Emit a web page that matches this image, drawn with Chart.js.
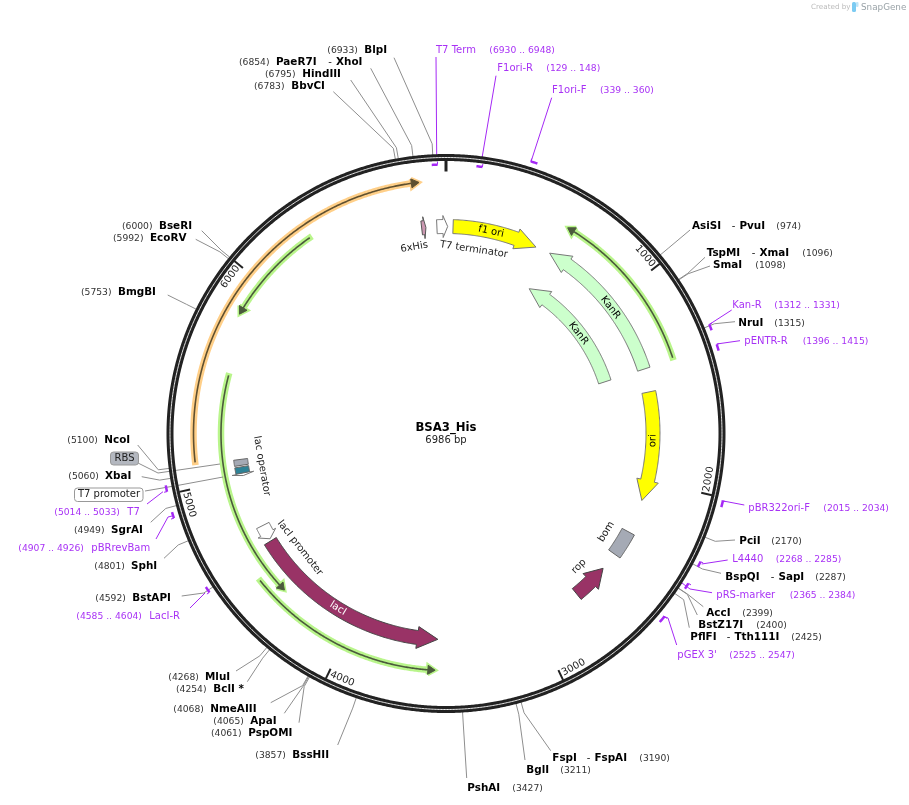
<!DOCTYPE html>
<html><head><meta charset="utf-8">
<style>html,body{margin:0;padding:0;background:#fff}canvas{display:block}</style>
<script src="https://cdn.jsdelivr.net/npm/chart.js@4"></script>
</head><body><canvas id="c" width="909" height="805"></canvas>
<script>
// ---------- values ----------
const plasmidName = "BSA3_His";
const plasmidLength = 6986;
const tickPositions = [1000, 2000, 3000, 4000, 5000, 6000];

const siteNames = ["BlpI","PaeR7I","HindIII","BbvCI","AsiSI","TspMI","SmaI","NruI","PciI","BspQI","AccI","BstZ17I","PflFI","FspI","BglI","PshAI","BssHII","PspOMI","ApaI","NmeAIII","BclI *","MluI","BstAPI","SphI","SgrAI","XbaI","NcoI","BseRI","EcoRV","BmgBI"];
const siteAlts = ["","XhoI","","","PvuI","XmaI","","","","SapI","","","Tth111I","FspAI","","","","","","","","","","","","","","","",""];
const sitePositions = [6933,6854,6795,6783,974,1096,1098,1315,2170,2287,2399,2400,2425,3190,3211,3427,3857,4061,4065,4068,4254,4268,4592,4801,4949,5060,5100,6000,5992,5753];

const primerNames = ["T7 Term","F1ori-R","F1ori-F","Kan-R","pENTR-R","pBR322ori-F","L4440","pRS-marker","pGEX 3'","T7","pBRrevBam","LacI-R"];
const primerStarts = [6930,129,339,1312,1396,2015,2268,2365,2525,5014,4907,4585];
const primerEnds = [6948,148,360,1331,1415,2034,2285,2384,2547,5033,4926,4604];

const blockNames = ["f1 ori","KanR","KanR","ori","rop","lacI"];
const blockTails = [38,1397,1397,1522,2733,4628];
const blockHeads = [386,691,712,2002,2632,3648];
const blockTips = [500,580,580,2113,2535,3537];

const arcStarts = [1388,5112,6310,5530,4496];
const arcEnds = [594,6867,5822,4384,3544];

// ---------- layout and style ----------
const CX = 446, CY = 433.5, RING = 276;
const sitePlace = [[364.3,50.5,0,327.3,394,57.7],[276,62.5,328.3,239,370.7,68.3],[302.3,74.5,0,265,350.7,80],[291.3,86.5,0,254,333.3,91.7],
[692,226.5,731.7,776.3,690,230],[706.7,253.5,751.7,802.3,705,257.3],[713,265.5,0,755.3,710,266],[738.3,323.5,0,774.3,735,321.7],
[739.3,541.5,0,771.3,735,540],[725.3,577.5,770.7,815.3,721,573.3],[706.3,613.5,0,742.3,703.3,606.7],[698.3,625.5,0,756.3,697.3,615],
[690.3,637.5,726.7,791.3,689.3,627.7],[552.3,758.5,586.7,639.3,550.7,750.7],[526.3,770.5,0,560.3,525,760],[467.3,788.5,0,512.3,466.7,778],
[292.3,755.5,0,255.3,337.7,745],[248.3,733.5,0,211,299,722.7],[250.3,721.5,0,213.3,284.3,713.3],[210.3,709.5,0,173.3,270.7,702.7],
[213.3,689.5,0,176,247.3,681.7],[205,677.5,0,168.3,236,671],[132.3,598.5,0,95.3,181.7,596],[131,566.5,0,94.3,164,558.3],
[111,530.5,0,74,150.7,522.3],[105,476.5,0,68.3,141.7,476.7],[104.3,440.5,0,67.3,137.7,445],[159,226.5,0,122,201.7,230.7],[150,238.5,0,113,195.7,239.3],[118,292.5,0,81,167.7,295]];
// label x, y, range x, glyph radius, leader points
const primerPlace = [
[436,50.5,489.3,269,[[436,57],[436.7,155],[437,160]]],
[497.3,68.5,546.3,269,[[496,75.7],[482,158]]],
[552,90.5,600,285,[[551.7,97.7],[531,161.7]]],
[732.3,305.5,774.3,285,[[731.7,310],[710,324]]],
[744.3,341.5,802.7,285,[[740,340.7],[716.7,344]]],
[748.3,508.5,823.3,285,[[744.3,505],[721.7,500.7]]],
[732.3,559.5,775.7,285,[[727.7,560],[701.7,564]]],
[716.3,595.5,789.7,285,[[712,592.7],[690,589],[678,580]]],
[677.3,655.7,729.3,285,[[676.7,645],[668,618],[663,616]]],
[127.3,512.5,54.3,285,[[147,504],[163,491.7]]],
[91.3,548.7,18.3,285,[[156,539],[168,517],[172,516]]],
[149.3,616.5,76.3,285,[[190,608],[205,593]]]];
const blockStyle = [[207,7,10.5,"#FFFF00","#777"],[208,6.5,10,"#CCFFCC","#777"],[167,6.5,10,"#CCFFCC","#777"],[207,7,11,"#FFFF00","#777"],[207,7,11,"#993366","#444"],[206,7,11,"#993366","#444"]];
const arcStyle = [[239,"#B9F58B","#4B5A3C"],[252.5,"#FFCF88","#5F5030"],[238.5,"#B9F58B","#4B5A3C"],[225,"#B9F58B","#4B5A3C"],[237,"#B9F58B","#4B5A3C"]];
const PURPLE = "#A428F5", GREY = "#8E8E8E";

function polar(bp, r){ const t = bp/plasmidLength*2*Math.PI; return {x: CX + r*Math.sin(t), y: CY - r*Math.cos(t)}; }
function arc(a, b, r){ const n = Math.max(2, Math.ceil(Math.abs(b-a)/6)), out = []; for(let i=0;i<=n;i++) out.push(polar(a+(b-a)*i/n, r)); return out; }
function arrow(tail, head, tip, r, bw, hw){ return [...arc(tail,head,r+bw), polar(head,r+hw), polar(tip,r), polar(head,r-hw), ...arc(head,tail,r-bw), polar(tail,r+bw)]; }
function xy(p){ return {x:p[0], y:p[1]}; }

const layers = [];
// a dash longer than any path keeps every vertex (no x-pixel merging) while the stroke stays solid
const SOLID = [100000];
const line = (data,color,width)=>layers.push({data,borderColor:color,borderWidth:width,borderDash:SOLID,fill:false,showLine:true,pointRadius:0,tension:0,clip:false,borderJoinStyle:'round',borderCapStyle:'butt'});
const shape = (data,fillc,stroke,width)=>layers.push({data,borderColor:stroke,backgroundColor:fillc,borderWidth:width,borderDash:SOLID,fill:'shape',showLine:true,pointRadius:0,tension:0,clip:false,borderJoinStyle:'miter'});

// thin arcs with halo
arcStarts.forEach((s,i)=>{
  const e = arcEnds[i], [r,halo,dark] = arcStyle[i], dir = e>s?1:-1, hb = e-dir*34;
  const head = [polar(hb,r+4.5),polar(e,r),polar(hb,r-4.5),polar(hb,r+4.5)];
  line(arc(s-dir*12,hb,r),halo,6.5); shape(head,halo,halo,4);
  line(arc(s,hb,r),dark,1.6); shape(head,dark,dark,1);
});
// blocks
blockNames.forEach((n,i)=>{ const [r,bw,hw,f,st] = blockStyle[i];
  if(i===5) shape(arrow(4722,4675,4640,205,7,10),"#fff","#777",1);
  shape(arrow(blockTails[i],blockHeads[i],blockTips[i],r,bw,hw),f,st,1); });
// small features
shape(arc(2296,2437,214).concat(arc(2437,2296,200)).concat([polar(2296,214)]),"#A5AAB5","#666",1); // bom
shape(arrow(6855,6867,6878,207,7,11),"#CC99B2","#555",1); // 6xHis
shape(arrow(6937,6970,6995,207,7,11),"#fff","#777",1); // T7 terminator
shape(arrow(5028,5024,5012,207,7,11),"#fff","#777",1); // T7 promoter
shape(arc(5068,5100,214).concat(arc(5100,5068,200)).concat([polar(5068,214)]),"#A5AAB5","#666",1); // RBS
shape(arc(5026,5060,214).concat(arc(5060,5026,200)).concat([polar(5026,214)]),"#2E8296","#666",1); // lac operator

// site leaders
sitePositions.forEach((bp,i)=>{ const a = sitePlace[i]; line([polar(bp,279),polar(bp,290),{x:a[4],y:a[5]}],GREY,1); });
line([[138,463],[158,473],[220,464]].map(xy),GREY,1);
line([[145,491],[180,485],[223,477]].map(xy),GREY,1);
// primers
primerNames.forEach((n,i)=>{ const p = primerPlace[i], s = primerStarts[i], e = primerEnds[i], r = p[3];
  line(p[4].map(xy),PURPLE,1);
  line(arc(s-3,e+3,r),PURPLE,2.5);
  const last = p[4][p[4].length-1], a = polar(s,r), b = polar(e,r);
  const near = Math.hypot(a.x-last[0],a.y-last[1]) < Math.hypot(b.x-last[0],b.y-last[1]) ? s-3 : e+3;
  line([polar(near,r),polar(near,r+3)],PURPLE,1);
});
// ring and ticks
line(arc(0,plasmidLength,RING),"#222",7);
line(arc(0,plasmidLength,RING),"#E8E8E8",1);
tickPositions.forEach(b=>line([polar(b,262),polar(b,273)],"#222",2));
line([polar(0,262),polar(0,273)],"#222",3);

// ---------- text ----------
const FONT = '"DejaVu Sans"';
function text(ctx,x,y,s,font,color,align,rot){ ctx.save(); ctx.translate(x,y); if(rot) ctx.rotate(rot*Math.PI/180); ctx.font=font; ctx.fillStyle=color; ctx.textAlign=align||'left'; ctx.textBaseline='middle'; ctx.fillText(s,0,0); ctx.restore(); }
const textPlugin = { id:'mapText', afterDraw(chart){
  const ctx = chart.ctx, X = v=>chart.scales.x.getPixelForValue(v), Y = v=>chart.scales.y.getPixelForValue(v);
  const bold = `bold 10.4px ${FONT}`, num = `9.2px ${FONT}`, reg = `10px ${FONT}`;
  siteNames.forEach((n,i)=>{ const a = sitePlace[i];
    text(ctx,X(a[0]),Y(a[1]),n,bold,"#000");
    if(siteAlts[i]){ text(ctx,X(a[2]),Y(a[1]),"-",reg,"#222"); text(ctx,X(a[2]+7.7),Y(a[1]),siteAlts[i],bold,"#000"); }
    text(ctx,X(a[3]),Y(a[1]),"("+sitePositions[i]+")",num,"#333");
  });
  primerNames.forEach((n,i)=>{ const p = primerPlace[i];
    text(ctx,X(p[0]),Y(p[1]),n,reg,"#A832F5");
    text(ctx,X(p[2]),Y(p[1]),"("+primerStarts[i]+" .. "+primerEnds[i]+")",`9.2px ${FONT}`,"#A832F5");
  });
  text(ctx,X(CX),Y(428),plasmidName,`bold 11.7px ${FONT}`,"#000","center");
  text(ctx,X(CX),Y(440),plasmidLength+" bp",reg,"#222","center");
  // tick labels
  tickPositions.forEach(b=>{ const deg = b/plasmidLength*360-3.2, c = polar(b-3.2/360*plasmidLength,266.5), rot = (deg>90&&deg<270)?deg-180:deg;
    text(ctx,X(c.x),Y(c.y),String(b),reg,"#222","center",rot); });
  // feature labels
  const fl = [["f1 ori",12.6,207,"#000"],["KanR",52.6,207,"#000"],["KanR",52.9,166,"#000"],["ori",92,207,"#000"],["lacI",211.7,205.6,"#fff"],
    ["bom",121.5,188,"#222"],["rop",135,188,"#222"],["lacI promoter",231.9,185.5,"#222"],["lac operator",260,187,"#222"],["6xHis",350.3,189,"#222"],["T7 terminator",8.6,186,"#222"]];
  fl.forEach(([s,deg,r,col])=>{ const c = polar(deg/360*plasmidLength,r), rot = (deg>90&&deg<270)?deg-180:(deg>270?deg-360:deg);
    text(ctx,X(c.x),Y(c.y),s,reg,col,"center",rot); });
  // boxed labels
  ctx.save(); ctx.lineWidth=1;
  ctx.fillStyle="#B3B7BF"; ctx.strokeStyle="#999"; ctx.beginPath(); ctx.roundRect(X(110.5),Y(452),28,13,3); ctx.fill(); ctx.stroke();
  ctx.fillStyle="#fff"; ctx.beginPath(); ctx.roundRect(X(74.5),Y(488),68.5,13.5,3); ctx.fill(); ctx.stroke();
  ctx.restore();
  text(ctx,X(124.5),Y(458.5),"RBS",reg,"#222","center");
  text(ctx,X(109),Y(494.5),"T7 promoter",reg,"#222","center");
  // watermark
  text(ctx,X(811),Y(7.5),"Created by",`7.2px ${FONT}`,"#BBBBBB");
  ctx.save(); ctx.fillStyle="#7CCBF2"; ctx.beginPath(); ctx.roundRect(X(852),Y(2),4,10,1.5); ctx.fill(); ctx.fillStyle="#BFE5F8"; ctx.beginPath(); ctx.roundRect(X(856),Y(2),2.5,5,1); ctx.fill(); ctx.restore();
  text(ctx,X(861),Y(7.5),"SnapGene",`8.8px ${FONT}`,"#9AA3A8");
}};

new Chart(document.getElementById('c'),{
  type:'scatter',
  data:{datasets:layers.slice().reverse()},
  options:{responsive:false,animation:false,events:[],devicePixelRatio:1,layout:{padding:0},
    plugins:{legend:{display:false},tooltip:{enabled:false},title:{display:false}},
    scales:{x:{type:'linear',min:0,max:909,display:false},y:{type:'linear',min:0,max:805,reverse:true,display:false}}},
  plugins:[textPlugin]
});
</script></body></html>
